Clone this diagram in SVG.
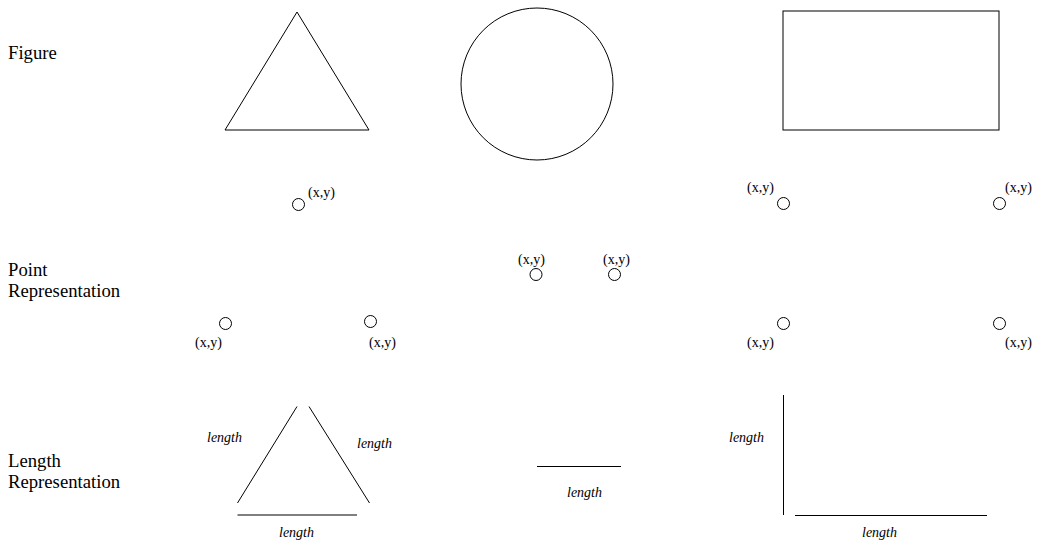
<svg xmlns="http://www.w3.org/2000/svg" width="1040" height="552" viewBox="0 0 1040 552">
<style>
.s{fill:none;stroke:#000;stroke-width:1}
.lbl{font-family:"Liberation Serif",serif;font-size:18.7px;fill:#000}
.pt{font-family:"Liberation Serif",serif;font-size:14px;fill:#000}
.len{font-family:"Liberation Serif",serif;font-size:14px;font-style:italic;fill:#000}
</style>
<rect width="1040" height="552" fill="#fff"/>
<g id="row-labels">
<text class="lbl" x="8" y="59">Figure</text>
<text class="lbl" x="8" y="276">Point</text>
<text class="lbl" x="8" y="297">Representation</text>
<text class="lbl" x="8" y="467">Length</text>
<text class="lbl" x="8" y="488">Representation</text>
</g>
<g id="figure-triangle"><polygon class="s" points="297,12 225,130 369,130"/></g>
<g id="figure-circle"><circle class="s" cx="537" cy="84" r="76"/></g>
<g id="figure-rectangle"><rect class="s" x="783" y="11" width="216" height="119"/></g>
<g id="point-triangle">
<circle class="s" cx="298.5" cy="204.5" r="6"/>
<circle class="s" cx="225.5" cy="323.5" r="6"/>
<circle class="s" cx="370.5" cy="321.5" r="6"/>
<text class="pt" x="308" y="197">(x,y)</text>
<text class="pt" x="195" y="347">(x,y)</text>
<text class="pt" x="369" y="347">(x,y)</text>
</g>
<g id="point-circle">
<circle class="s" cx="536" cy="274.5" r="6"/>
<circle class="s" cx="614.5" cy="274.5" r="6"/>
<text class="pt" x="518" y="264">(x,y)</text>
<text class="pt" x="603" y="264">(x,y)</text>
</g>
<g id="point-rectangle">
<circle class="s" cx="783.5" cy="203.5" r="6"/>
<circle class="s" cx="999.5" cy="203.5" r="6"/>
<circle class="s" cx="783.5" cy="323.5" r="6"/>
<circle class="s" cx="999.5" cy="323.5" r="6"/>
<text class="pt" x="747" y="192">(x,y)</text>
<text class="pt" x="1005" y="192">(x,y)</text>
<text class="pt" x="747" y="347">(x,y)</text>
<text class="pt" x="1005" y="347">(x,y)</text>
</g>
<g id="length-triangle">
<line class="s" x1="237.5" y1="503" x2="297" y2="406.5"/>
<line class="s" x1="309" y1="406.5" x2="369.5" y2="503"/>
<line class="s" x1="237.5" y1="515" x2="357" y2="515"/>
<text class="len" x="207" y="442">length</text>
<text class="len" x="357" y="448">length</text>
<text class="len" x="279" y="537">length</text>
</g>
<g id="length-circle">
<line class="s" x1="537" y1="466.5" x2="621" y2="466.5"/>
<text class="len" x="567" y="497">length</text>
</g>
<g id="length-rectangle">
<line class="s" x1="783.5" y1="395" x2="783.5" y2="515"/>
<line class="s" x1="795" y1="515.5" x2="987" y2="515.5"/>
<text class="len" x="729" y="442">length</text>
<text class="len" x="862" y="537">length</text>
</g>
<g id="connectors"/>
</svg>
